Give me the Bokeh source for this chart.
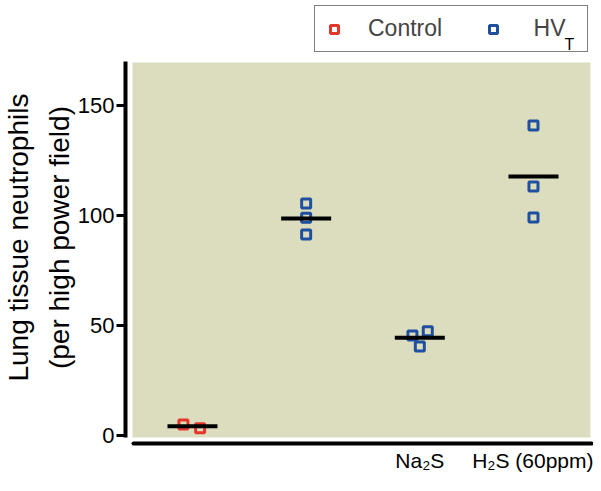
import numpy as np
from bokeh.plotting import figure
from bokeh.models import (ColumnDataSource, Range1d, FixedTicker, BoxAnnotation,
                          Legend, LegendItem, Label)
from bokeh.embed import file_html
from bokeh.resources import INLINE

# ---- data ----
group_positions = [1, 2, 3, 4]
control_values = [5.0, 3.3]
hvt_values = [105.5, 99.0, 91.4]
na2s_values = [45.5, 47.4, 40.5]
h2s_values = [140.9, 113.2, 99.1]
control_jitter = [-0.08, 0.067]
hvt_jitter = [0.0, 0.0, 0.0]
na2s_jitter = [-0.065, 0.07, 0.0]
h2s_jitter = [0.0, 0.0, 0.0]
x_tick_labels = {3: "Na\u2082S", 4: "H\u2082S (60ppm)"}
y_ticks = [0, 50, 100, 150]
y_label_lines = ["Lung tissue neutrophils", "(per high power field)"]
legend_labels = ["Control", " HV"]
legend_subscript = "T"

RED = "#e5362c"
BLUE = "#1f4f9f"
OLIVE = "#dcddbf"
FONT = "Liberation Sans"

x_start, x_end = 0.4106, 4.528
y_start, y_end = -3.64, 197.73
axis_top = 170.0

p = figure(width=593, height=483, output_backend="svg", toolbar_location=None,
           x_range=Range1d(x_start, x_end), y_range=Range1d(y_start, y_end),
           min_border_left=125, min_border_right=0, min_border_top=0, min_border_bottom=40)
p.background_fill_color = "white"
p.border_fill_color = "white"
p.outline_line_color = None
p.xgrid.visible = False
p.ygrid.visible = False

# olive plotting area
p.add_layout(BoxAnnotation(left=0.472, right=4.501, bottom=-0.9, top=axis_top - 0.5,
                           fill_color=OLIVE, fill_alpha=1.0, line_color=None, level="underlay"))

# points
red_src = ColumnDataSource(dict(x=[group_positions[0] + j for j in control_jitter], y=control_values))
blue_x = ([group_positions[1] + j for j in hvt_jitter] + [group_positions[2] + j for j in na2s_jitter]
          + [group_positions[3] + j for j in h2s_jitter])
blue_y = hvt_values + na2s_values + h2s_values
blue_src = ColumnDataSource(dict(x=blue_x, y=blue_y))

all_groups = [control_values, hvt_values, na2s_values, h2s_values]
means = [float(np.mean(g)) for g in all_groups]
half = 0.22
mean_src = ColumnDataSource(dict(x0=[g - half for g in group_positions],
                                 x1=[g + half for g in group_positions], y=means))

r_red = p.scatter("x", "y", source=red_src, marker="square", size=9, fill_color=None,
                  line_color=RED, line_width=3)
r_blue = p.scatter("x", "y", source=blue_src, marker="square", size=9, fill_color=None,
                   line_color=BLUE, line_width=3)
p.segment(x0="x0", x1="x1", y0="y", y1="y", source=mean_src, line_color="black", line_width=4)

# y axis
ya = p.yaxis[0]
ya.ticker = FixedTicker(ticks=y_ticks)
ya.bounds = (-0.9, axis_top)
ya.axis_line_width = 4
ya.major_tick_line_width = 3
ya.major_tick_out = 9
ya.major_tick_in = 0
ya.minor_tick_line_color = None
ya.major_label_standoff = 2
ya.major_label_text_font = FONT
ya.major_label_text_font_size = "22px"
ya.major_label_text_color = "black"
pad = "\u00a0" * 4  # nudges the centred label down the axis, as in the original
ya.axis_label = "\n".join(line + pad for line in y_label_lines)
ya.axis_label_text_font = FONT
ya.axis_label_text_font_size = "28px"
ya.axis_label_text_font_style = "normal"
ya.axis_label_text_color = "black"
ya.axis_label_standoff = 0
ya.axis_label_text_line_height = 1.3

# x axis
xa = p.xaxis[0]
xa.ticker = FixedTicker(ticks=list(x_tick_labels.keys()))
xa.major_label_overrides = x_tick_labels
xa.bounds = (0.481, 4.51)
xa.axis_line_width = 4
xa.axis_line_cap = "round"
xa.major_tick_line_color = None
xa.minor_tick_line_color = None
xa.major_tick_out = 0
xa.major_label_standoff = 5
xa.major_label_text_font = FONT
xa.major_label_text_font_size = "21px"
xa.major_label_text_color = "black"

# legend
legend = Legend(items=[LegendItem(label=legend_labels[0], renderers=[r_red]),
                       LegendItem(label=legend_labels[1], renderers=[r_blue])],
                orientation="horizontal", location=(189, 391),
                label_text_font=FONT, label_text_font_size="23px",
                label_standoff=24, spacing=41, padding=9, glyph_width=20, glyph_height=20,
                label_width=51,
                border_line_color="black", border_line_width=1.5,
                background_fill_alpha=0.0, margin=0)
p.add_layout(legend, "center")
p.add_layout(Label(x=439, y=399, x_units="screen", y_units="screen", text=legend_subscript,
                   text_font=FONT, text_font_size="16px", text_baseline="alphabetic",
                   text_color="black", level="overlay"))

open("out.html", "w").write(file_html(p, INLINE))
